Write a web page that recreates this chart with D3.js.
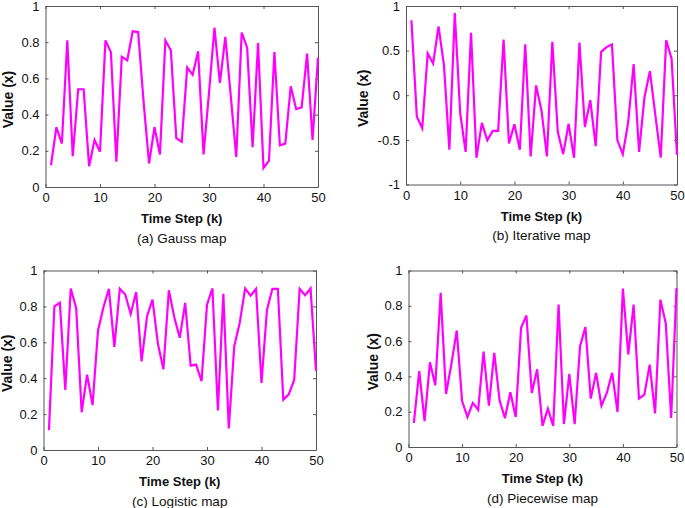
<!DOCTYPE html>
<html>
<head>
<meta charset="utf-8">
<script src="https://cdn.jsdelivr.net/npm/d3@7"></script>
<style>
  body { margin: 0; background: #fff; }
  text { font-family: "Liberation Sans", Arial, sans-serif; fill: #111; }
</style>
</head>
<body>
<script>
// Chaotic map sequences, k = 1..50
var steps = d3.range(1, 51);

var gauss = [0.12, 0.33, 0.24, 0.81, 0.17, 0.54, 0.54, 0.115, 0.26, 0.195,
  0.81, 0.745, 0.14, 0.72, 0.70, 0.86, 0.856, 0.47, 0.13, 0.33,
  0.18, 0.81, 0.755, 0.27, 0.25, 0.66, 0.62, 0.75, 0.18, 0.52,
  0.88, 0.575, 0.83, 0.50, 0.166, 0.853, 0.77, 0.22, 0.795, 0.105,
  0.144, 0.745, 0.23, 0.24, 0.556, 0.43, 0.44, 0.737, 0.26, 0.715];

var iterative = [0.84, -0.24, -0.37, 0.47, 0.355, 0.77, 0.34, -0.61, 0.92, -0.2,
  -0.635, 0.70, -0.70, -0.31, -0.505, -0.40, -0.40, 0.625, -0.54, -0.325,
  -0.61, 0.57, -0.685, 0.11, -0.17, -0.685, 0.60, -0.41, -0.66, -0.32,
  -0.70, 0.59, -0.355, -0.056, -0.57, 0.486, 0.54, 0.57, -0.505, -0.66,
  -0.30, 0.35, -0.635, -0.02, 0.27, -0.22, -0.70, 0.617, 0.41, -0.67];

var logistic = [0.11, 0.80, 0.82, 0.335, 0.90, 0.79, 0.21, 0.42, 0.25, 0.665,
  0.795, 0.898, 0.574, 0.898, 0.866, 0.758, 0.88, 0.494, 0.745, 0.838,
  0.59, 0.45, 0.89, 0.74, 0.625, 0.82, 0.47, 0.476, 0.383, 0.81,
  0.90, 0.22, 0.87, 0.12, 0.578, 0.708, 0.90, 0.86, 0.898, 0.374,
  0.78, 0.898, 0.898, 0.28, 0.31, 0.39, 0.898, 0.862, 0.90, 0.44];

var piecewise = [0.136, 0.43, 0.146, 0.48, 0.35, 0.873, 0.30, 0.47, 0.66, 0.26,
  0.17, 0.25, 0.21, 0.54, 0.234, 0.533, 0.263, 0.164, 0.31, 0.17,
  0.675, 0.745, 0.306, 0.44, 0.12, 0.217, 0.12, 0.807, 0.13, 0.414,
  0.13, 0.57, 0.68, 0.274, 0.42, 0.234, 0.306, 0.42, 0.198, 0.898,
  0.524, 0.807, 0.274, 0.297, 0.467, 0.19, 0.835, 0.70, 0.164, 0.90];

var captions = ["(a) Gauss map", "(b) Iterative map", "(c) Logistic map", "(d) Piecewise map"];
var xTicks = [0, 10, 20, 30, 40, 50];
var yTicksUnit = [0, 0.2, 0.4, 0.6, 0.8, 1];
var yTicksSym = [-1, -0.5, 0, 0.5, 1];

// Panel frames in pixels (labelDx = y label offset from the left axis)
var panels = [
  { values: gauss, yDomain: [0, 1], yTicks: yTicksUnit, x0: 45.5, x1: 318, y0: 6, y1: 187, labelDx: 33 },
  { values: iterative, yDomain: [-1, 1], yTicks: yTicksSym, x0: 406, x1: 677, y0: 6, y1: 184.5, labelDx: 38 },
  { values: logistic, yDomain: [0, 1], yTicks: yTicksUnit, x0: 43.5, x1: 316, y0: 270.5, y1: 450, labelDx: 32 },
  { values: piecewise, yDomain: [0, 1], yTicks: yTicksUnit, x0: 408.5, x1: 676.5, y0: 270.5, y1: 447, labelDx: 31 }
];

var svg = d3.select("body").append("svg")
  .attr("width", 685)
  .attr("height", 508);

panels.forEach(function (p, i) {
  var x = d3.scaleLinear().domain([0, 50]).range([p.x0, p.x1]);
  var y = d3.scaleLinear().domain(p.yDomain).range([p.y1, p.y0]);
  var g = svg.append("g");
  var fmt = function (d) { return String(d); };

  // bottom axis with inward ticks
  g.append("g")
    .attr("transform", "translate(0," + p.y1 + ")")
    .call(d3.axisBottom(x).tickValues(xTicks).tickFormat(fmt).tickSizeInner(-3).tickSizeOuter(0).tickPadding(6));
  // top axis (frame only)
  g.append("g")
    .attr("transform", "translate(0," + p.y0 + ")")
    .call(d3.axisTop(x).tickValues(xTicks).tickFormat("").tickSizeInner(-3).tickSizeOuter(0));
  // left axis
  g.append("g")
    .attr("transform", "translate(" + p.x0 + ",0)")
    .call(d3.axisLeft(y).tickValues(p.yTicks).tickFormat(fmt).tickSizeInner(-3).tickSizeOuter(0).tickPadding(6));
  // right axis (frame only)
  g.append("g")
    .attr("transform", "translate(" + p.x1 + ",0)")
    .call(d3.axisRight(y).tickValues(p.yTicks).tickFormat("").tickSizeInner(-3).tickSizeOuter(0));

  g.selectAll(".domain, .tick line").attr("stroke", "#555");
  g.selectAll(".tick text").attr("font-size", 13).attr("fill", "#111")
    .style("font-family", "Liberation Sans, Arial, sans-serif");

  // the series
  var line = d3.line()
    .x(function (d, j) { return x(steps[j]); })
    .y(function (d) { return y(d); });
  g.append("path")
    .datum(p.values)
    .attr("fill", "none")
    .attr("stroke", "#ff00ff")
    .attr("stroke-width", 2.2)
    .attr("stroke-linejoin", "miter")
    .attr("d", line);

  var cx = (p.x0 + p.x1) / 2;
  var cy = (p.y0 + p.y1) / 2 + 3;

  g.append("text")
    .attr("transform", "translate(" + (p.x0 - p.labelDx) + "," + cy + ") rotate(-90)")
    .attr("text-anchor", "middle")
    .attr("font-size", 14)
    .attr("font-weight", "bold")
    .text("Value (x)");

  g.append("text")
    .attr("x", cx)
    .attr("y", p.y1 + 36)
    .attr("text-anchor", "middle")
    .attr("font-size", 13)
    .attr("font-weight", "bold")
    .text("Time Step (k)");

  g.append("text")
    .attr("x", cx)
    .attr("y", p.y1 + 55.5)
    .attr("text-anchor", "middle")
    .attr("font-size", 13.5)
    .text(captions[i]);
});
</script>
</body>
</html>
